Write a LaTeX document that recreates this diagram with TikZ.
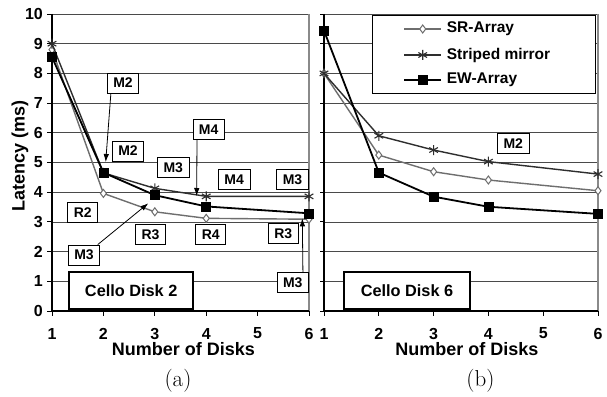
\documentclass[tikz,border=0pt]{standalone}
\usepackage{fontspec}
\setsansfont{Liberation Sans}
\usetikzlibrary{arrows.meta,calc,plotmarks}
\definecolor{srgray}{HTML}{6E6E6E}
\definecolor{smdark}{HTML}{2E2E2E}
\definecolor{gridc}{HTML}{4A4A4A}
\definecolor{bordc}{HTML}{8A8A8A}
\begin{document}
\begin{tikzpicture}[x=1pt,y=-1pt,
  gridln/.style={draw=gridc, line width=0.8pt},
  axis/.style={draw=black, line width=1.1pt},
  rborder/.style={draw=bordc, line width=1.8pt},
  tickmk/.style={draw=black, line width=0.9pt},
  ticklab/.style={font=\sffamily\bfseries\fontsize{16}{16}\selectfont, inner sep=0pt},
  axtitle/.style={font=\sffamily\bfseries\fontsize{18}{18}\selectfont, inner sep=0pt},
  lab/.style={font=\sffamily\bfseries\fontsize{14}{14}\selectfont, draw=black, fill=white, line width=0.8pt, inner xsep=6pt, inner ysep=0pt, minimum height=20pt},
  cello/.style={font=\sffamily\bfseries\fontsize{16.3}{16}\selectfont, draw=black, fill=white, line width=2pt, minimum height=37pt},
  legtext/.style={font=\sffamily\bfseries\fontsize{15.5}{15.5}\selectfont, inner sep=0pt, anchor=west},
  caption/.style={font=\fontsize{23}{23}\selectfont, inner sep=0pt},
  srline/.style={draw=srgray, line width=1.4pt, mark=diamond*, mark size=4pt, mark options={draw=srgray, fill=white, line width=1pt, solid}},
  smline/.style={draw=smdark, line width=1.4pt, mark=asterisk, mark size=5pt, mark options={draw=smdark, line width=1.1pt}},
  ewline/.style={draw=black, line width=1.8pt, mark=square*, mark size=4.5pt, mark options={draw=black, fill=black, line width=0.5pt}},
  pointer/.style={draw=black, line width=0.8pt, -{Latex[length=8pt,width=5.5pt]}}
]
\useasboundingbox (0,0) rectangle (607,396);
\fill[white] (0,0) rectangle (607,396);

% ---------- left plot (a) ----------
\foreach \v in {1,...,10}
  \draw[gridln] (52,{311-29.7*\v}) -- (309,{311-29.7*\v});
\draw[rborder] (309,14) -- (309,311);
\foreach \v in {0,...,10} {
  \draw[tickmk] (47,{311-29.7*\v}) -- (52,{311-29.7*\v});
  \node[ticklab, anchor=east] (ya\v) at (43,{311-29.7*\v}) {\v};
}
\foreach \d in {1,...,6} {
  \draw[tickmk] ({52+51.4*(\d-1)},311) -- ({52+51.4*(\d-1)},316);
  \node[ticklab] (xa\d) at ({52+51.4*(\d-1)},333.5) {\d};
}
\draw[axis] (52,14) -- (52,311);
\draw[axis] (52,311) -- (309,311);

\begin{scope}[shift={(0.6pt,-311pt)}, x=51.4pt, y=29.7pt]
  \draw[srline] plot coordinates {(1,8.8) (2,3.96) (3,3.34) (4,3.12) (6,3.09)};
  \draw[smline] plot coordinates {(1,9.0) (2,4.65) (3,4.13) (4,3.86) (6,3.86)};
  \draw[ewline] plot coordinates {(1,8.55) (2,4.66) (3,3.9) (4,3.52) (6,3.29)};
\end{scope}

\node[axtitle, rotate=90] (ylab) at (20,156) {Latency (ms)};
\node[axtitle] (xlaba) at (183.5,349) {Number of Disks};
\node[caption] (capa) at (178,381) {(a)};

% label boxes
\node[lab] (m2a) at (123,83) {M2};
\node[lab] (m2b) at (128,151) {M2};
\node[lab] (m3a) at (173.3,167.5) {M3};
\node[lab] (m4a) at (208.7,129.5) {M4};
\node[lab] (m4b) at (234.2,179.5) {M4};
\node[lab] (m3b) at (292.5,179.5) {M3};
\node[lab] (r2) at (82.8,212.2) {R2};
\node[lab] (r3a) at (150.5,234.7) {R3};
\node[lab] (m3c) at (84,255) {M3};
\node[lab] (r4) at (210.8,234.7) {R4};
\node[lab] (r3b) at (283.3,233.7) {R3};
\node[lab] (m3d) at (292.8,282.8) {M3};
\node[cello, minimum width=123.7pt] (cd2) at (131.2,290.5) {Cello Disk 2};

\coordinate (t1) at (105.7,162);
\coordinate (t2) at (196.7,196);
\coordinate (t3) at (148.3,203.3);
\coordinate (t4) at (302.3,218.3);
\draw[pointer] ($(m2a.south west)+(4,0)$) -- (t1);
\draw[pointer] ($(m4a.south west)+(4.4,0)$) -- (t2);
\draw[pointer] ($(m3c.north east)+(-2.4,0)$) -- (t3);
\draw[pointer] ($(m3d.north east)+(-6,0)$) -- (t4);

% ---------- right plot (b) ----------
\foreach \v in {1,...,10}
  \draw[gridln] (324,{311-29.7*\v}) -- (598,{311-29.7*\v});
\draw[rborder] (598,14) -- (598,311);
\foreach \v in {0,...,10}
  \draw[tickmk] (320,{311-29.7*\v}) -- (324,{311-29.7*\v});
\foreach \d in {1,...,6} {
  \draw[tickmk] ({324+54.8*(\d-1)},311) -- ({324+54.8*(\d-1)},316);
  \node[ticklab] (xb\d) at ({324+54.8*(\d-1)},333.5) {\d};
}
\draw[axis] (324,14) -- (324,311);
\draw[axis] (324,311) -- (598,311);

\begin{scope}[shift={(269.2pt,-311pt)}, x=54.8pt, y=29.7pt]
  \draw[srline] plot coordinates {(1,8.0) (2,5.25) (3,4.69) (4,4.41) (6,4.05)};
  \draw[smline] plot coordinates {(1,8.0) (2,5.9) (3,5.42) (4,5.03) (6,4.61)};
  \draw[ewline] plot coordinates {(1,9.44) (2,4.66) (3,3.85) (4,3.51) (6,3.27)};
\end{scope}

\node[axtitle] (xlabb) at (467,349) {Number of Disks};
\node[caption] (capb) at (480.5,381) {(b)};
\node[lab] (m2r) at (513.3,143.7) {M2};
\node[cello, minimum width=125.4pt] (cd6) at (407,290.5) {Cello Disk 6};

% legend
\node[draw=black, fill=white, line width=0.8pt, minimum width=223.4pt, minimum height=78.3pt, inner sep=0pt] (legend) at (484,54.2) {};
\draw[srline, mark=none] (404,29) -- (441,29);
\path[srline] plot coordinates {(422.7,29)};
\draw[smline, mark=none] (404,55) -- (441,55);
\path[smline] plot coordinates {(422.7,55)};
\draw[ewline, mark=none] (404,80) -- (441,80);
\path[ewline] plot coordinates {(422.7,80)};
\node[legtext] (lg1) at (446.7,29) {SR-Array};
\node[legtext] (lg2) at (446.7,55) {Striped mirror};
\node[legtext] (lg3) at (446.7,80) {EW-Array};
\end{tikzpicture}
\end{document}
